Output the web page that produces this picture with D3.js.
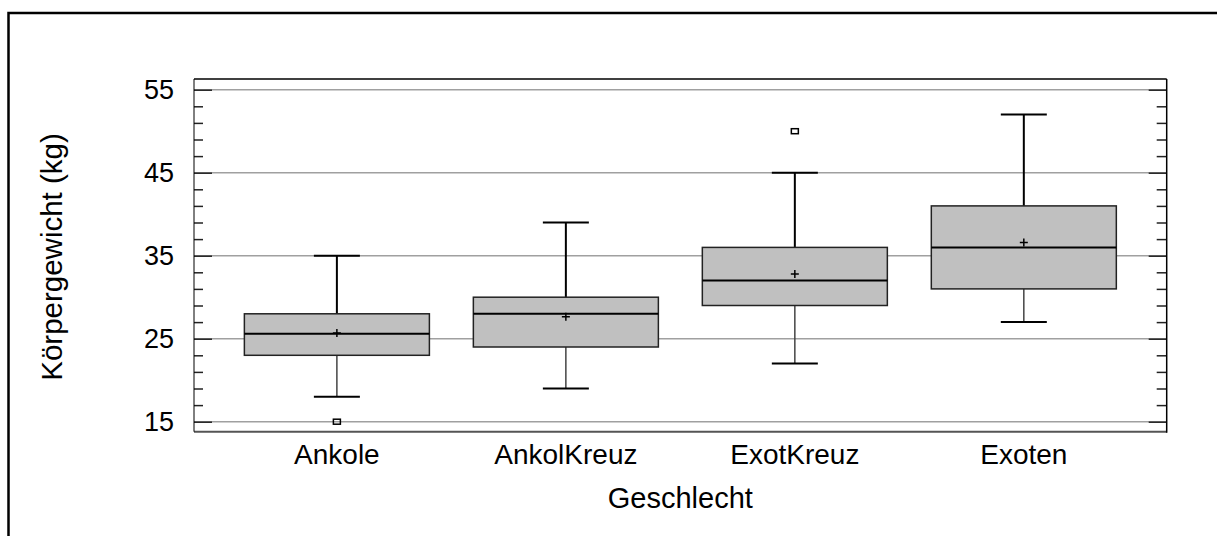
<!DOCTYPE html>
<html>
<head>
<meta charset="utf-8">
<script src="https://cdn.jsdelivr.net/npm/d3@7"></script>
<style>
  body { margin: 0; background: #fff; }
  svg text { font-family: "Liberation Sans", Arial, sans-serif; fill: #000; }
</style>
</head>
<body>
<script>
// Box plot values
var categories = ["Ankole", "AnkolKreuz", "ExotKreuz", "Exoten"];
var whiskerLow = [18, 19, 22, 27];
var q1 = [23, 24, 29, 31];
var median = [25.6, 28, 32, 36];
var q3 = [28, 30, 36, 41];
var whiskerHigh = [35, 39, 45, 52];
var means = [25.7, 27.65, 32.8, 36.6];
var outliers = [[15], [], [50], []];
var majorTicks = [15, 25, 35, 45, 55];
var minorTicks = d3.range(17, 55, 2).filter(v => (v - 15) % 10 !== 0);

var svgWidth = 1217;
var svgHeight = 536;

// plot frame
var frame = { left: 194, right: 1166.7, top: 79, bottom: 431.7 };

var svg = d3.select("body")
  .append("svg")
  .attr("width", svgWidth)
  .attr("height", svgHeight);

// outer border (only left and top are inside the window)
svg.append("rect")
  .attr("x", 8.5).attr("y", 13)
  .attr("width", 1240).attr("height", 560)
  .attr("fill", "none")
  .attr("stroke", "#000")
  .attr("stroke-width", 2.5);

var yScale = d3.scaleLinear()
  .domain([15, 55])
  .range([421.7, 89.7]);

var xScale = d3.scalePoint()
  .domain(categories)
  .range([frame.left, frame.right])
  .padding(0.624);

var boxWidth = xScale.step() * 0.808;
var capWidth = 46;

// gridlines
svg.append("g")
  .selectAll("line")
  .data(majorTicks)
  .enter()
  .append("line")
  .attr("x1", frame.left)
  .attr("x2", frame.right)
  .attr("y1", d => yScale(d))
  .attr("y2", d => yScale(d))
  .attr("stroke", "#a0a0a0")
  .attr("stroke-width", 1.5);

// left and right ticks
var leftAxis = d3.axisLeft(yScale).tickValues(majorTicks).tickSize(-18).tickFormat("");
var leftMinor = d3.axisLeft(yScale).tickValues(minorTicks).tickSize(-9).tickFormat("");
var rightAxis = d3.axisRight(yScale).tickValues(majorTicks).tickSize(-18).tickFormat("");
var rightMinor = d3.axisRight(yScale).tickValues(minorTicks).tickSize(-10).tickFormat("");

[[leftAxis, frame.left], [leftMinor, frame.left], [rightAxis, frame.right], [rightMinor, frame.right]]
  .forEach(function(a) {
    var g = svg.append("g")
      .attr("transform", `translate(${a[1]}, 0)`)
      .call(a[0]);
    g.select(".domain").remove();
    g.selectAll(".tick line").attr("stroke", "#222").attr("stroke-width", 1.5);
  });

// tick labels
svg.append("g")
  .selectAll("text")
  .data(majorTicks)
  .enter()
  .append("text")
  .attr("x", 174)
  .attr("y", d => yScale(d))
  .attr("dy", "0.36em")
  .attr("text-anchor", "end")
  .style("font-size", "27px")
  .text(d => d);

// frame lines
svg.append("line")
  .attr("x1", frame.left).attr("x2", frame.right)
  .attr("y1", frame.top).attr("y2", frame.top)
  .attr("stroke", "#000").attr("stroke-width", 1.5);
svg.append("line")
  .attr("x1", frame.left).attr("x2", frame.right)
  .attr("y1", frame.bottom).attr("y2", frame.bottom)
  .attr("stroke", "#555").attr("stroke-width", 2);
svg.append("line")
  .attr("x1", frame.left).attr("x2", frame.left)
  .attr("y1", frame.top).attr("y2", frame.bottom)
  .attr("stroke", "#000").attr("stroke-width", 1);
svg.append("line")
  .attr("x1", frame.right).attr("x2", frame.right)
  .attr("y1", frame.top).attr("y2", frame.bottom + 1)
  .attr("stroke", "#000").attr("stroke-width", 1.5);

// boxes
var boxes = svg.append("g")
  .selectAll("g")
  .data(categories)
  .enter()
  .append("g");

// upper whisker
boxes.append("line")
  .attr("x1", d => xScale(d)).attr("x2", d => xScale(d))
  .attr("y1", (d, i) => yScale(q3[i]))
  .attr("y2", (d, i) => yScale(whiskerHigh[i]))
  .attr("stroke", "#000").attr("stroke-width", 2);

// lower whisker
boxes.append("line")
  .attr("x1", d => xScale(d)).attr("x2", d => xScale(d))
  .attr("y1", (d, i) => yScale(q1[i]))
  .attr("y2", (d, i) => yScale(whiskerLow[i]))
  .attr("stroke", "#444").attr("stroke-width", 1.5);

// caps
boxes.append("line")
  .attr("x1", d => xScale(d) - capWidth / 2).attr("x2", d => xScale(d) + capWidth / 2)
  .attr("y1", (d, i) => yScale(whiskerHigh[i]))
  .attr("y2", (d, i) => yScale(whiskerHigh[i]))
  .attr("stroke", "#000").attr("stroke-width", 2);
boxes.append("line")
  .attr("x1", d => xScale(d) - capWidth / 2).attr("x2", d => xScale(d) + capWidth / 2)
  .attr("y1", (d, i) => yScale(whiskerLow[i]))
  .attr("y2", (d, i) => yScale(whiskerLow[i]))
  .attr("stroke", "#000").attr("stroke-width", 2);

boxes.append("rect")
  .attr("x", d => xScale(d) - boxWidth / 2)
  .attr("y", (d, i) => yScale(q3[i]))
  .attr("width", boxWidth)
  .attr("height", (d, i) => yScale(q1[i]) - yScale(q3[i]))
  .attr("fill", "#c0c0c0")
  .attr("stroke", "#222")
  .attr("stroke-width", 1.5);

// median
boxes.append("line")
  .attr("x1", d => xScale(d) - boxWidth / 2).attr("x2", d => xScale(d) + boxWidth / 2)
  .attr("y1", (d, i) => yScale(median[i]))
  .attr("y2", (d, i) => yScale(median[i]))
  .attr("stroke", "#000").attr("stroke-width", 2);

// mean cross
boxes.append("path")
  .attr("d", function(d, i) {
    var cx = xScale(d), cy = yScale(means[i]);
    return `M${cx - 4},${cy}H${cx + 4}M${cx},${cy - 4}V${cy + 4}`;
  })
  .attr("stroke", "#000").attr("stroke-width", 1.5);

// outliers
boxes.each(function(d, i) {
  d3.select(this).selectAll(".outlier")
    .data(outliers[i])
    .enter()
    .append("rect")
    .attr("class", "outlier")
    .attr("x", xScale(d) - 3.5)
    .attr("y", v => yScale(v) - 2.5)
    .attr("width", 7)
    .attr("height", 5)
    .attr("fill", "none")
    .attr("stroke", "#000")
    .attr("stroke-width", 1.5);
});

// category labels
svg.append("g")
  .selectAll("text")
  .data(categories)
  .enter()
  .append("text")
  .attr("x", d => xScale(d))
  .attr("y", 464)
  .attr("text-anchor", "middle")
  .style("font-size", "28px")
  .text(d => d);

// axis titles
svg.append("text")
  .attr("x", (frame.left + frame.right) / 2)
  .attr("y", 508)
  .attr("text-anchor", "middle")
  .style("font-size", "29px")
  .text("Geschlecht");

svg.append("text")
  .attr("transform", "translate(62, 257) rotate(-90)")
  .attr("text-anchor", "middle")
  .style("font-size", "29.5px")
  .text("Körpergewicht (kg)");
</script>
</body>
</html>
